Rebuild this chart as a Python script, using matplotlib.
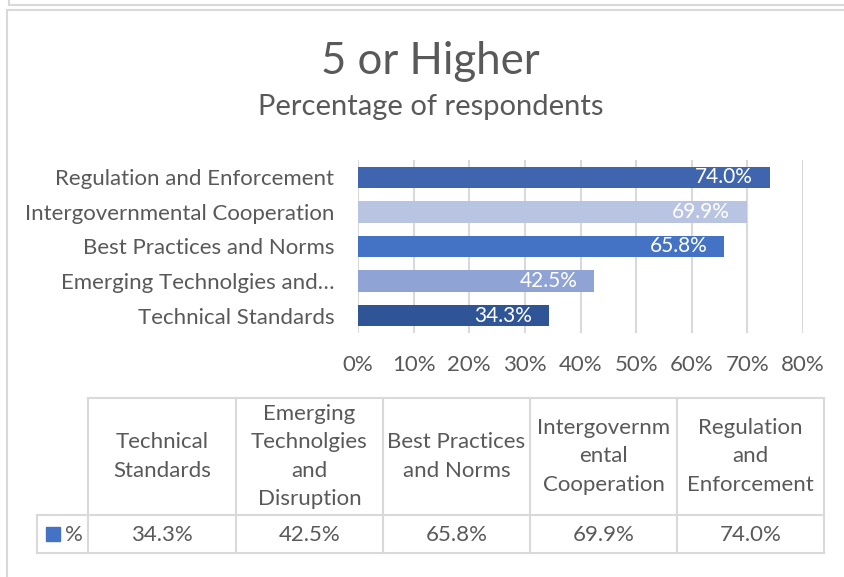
import matplotlib.pyplot as plt
from matplotlib.lines import Line2D

# data (table order: bottom bar first)
categories = ['Technical Standards', 'Emerging Technolgies and Disruption',
              'Best Practices and Norms', 'Intergovernmental Cooperation',
              'Regulation and Enforcement']
axis_labels = ['Technical Standards', 'Emerging Technolgies and\u2026',
               'Best Practices and Norms', 'Intergovernmental Cooperation',
               'Regulation and Enforcement']
table_headers = ['Technical\nStandards', 'Emerging\nTechnolgies\nand\nDisruption',
                 'Best Practices\nand Norms', 'Intergovernm\nental\nCooperation',
                 'Regulation\nand\nEnforcement']
values = [34.3, 42.5, 65.8, 69.9, 74.0]
bar_colors = ['#2F5597', '#8FA3D5', '#4472C4', '#B9C4E3', '#3E65AE']
xticks = [0, 10, 20, 30, 40, 50, 60, 70, 80]

W, H = 845, 577
TXT = '#595959'
GRID = '#D9D9D9'
FS = 16
plt.rcParams['font.family'] = ['Lato', 'DejaVu Sans']

fig = plt.figure(figsize=(W / 100, H / 100), dpi=100)


def px(x, y):
    # pixel coords (top-left origin) -> figure fraction
    return x / W, 1 - y / H


# outer frame
fig.add_artist(Line2D([9 / W, 1], [1 - 5 / H, 1 - 5 / H], color=GRID, lw=1.5))
fig.add_artist(Line2D([9 / W, 9 / W], [1, 1 - 5 / H], color=GRID, lw=1.5))
fig.add_artist(Line2D([7 / W, 1], [1 - 10 / H, 1 - 10 / H], color=GRID, lw=1.5))
fig.add_artist(Line2D([7 / W, 7 / W], [0, 1 - 10 / H], color=GRID, lw=1.5))

# titles
fig.text(*px(430, 62), '5 or Higher', ha='center', va='center', fontsize=31.5, color=TXT)
fig.text(*px(431, 107), 'Percentage of respondents', ha='center', va='center',
         fontsize=21, color=TXT)

# bar chart
left, right, top, bottom = 358, 803, 160, 333
ax = fig.add_axes([left / W, 1 - bottom / H, (right - left) / W, (bottom - top) / H])
ypos = list(range(len(values)))
ax.barh(ypos, values, height=0.62, color=bar_colors, zorder=3)
for y, v in zip(ypos, values):
    ax.annotate(f'{v:.1f}%', (v, y), xytext=(-12, 0), textcoords='offset points',
                ha='right', va='center', color='white', fontsize=15, zorder=4)
ax.set_xlim(0, 80)
ax.set_ylim(-0.5, 4.5)
ax.set_xticks(xticks)
ax.set_xticklabels([f'{t}%' for t in xticks], color=TXT, fontsize=FS)
ax.set_yticks(ypos)
ax.set_yticklabels(axis_labels, color=TXT, fontsize=FS)
ax.tick_params(length=0)
ax.tick_params(axis='x', pad=16)
ax.tick_params(axis='y', pad=17)
ax.grid(axis='x', color=GRID, lw=1.5, zorder=0)
for s in ax.spines.values():
    s.set_visible(False)

# data table
col_x = [88, 236, 383, 530, 677, 824]
t_top, t_mid, t_bot, t_left = 398, 515, 553, 37
lw = 1.5
for x in col_x:
    fig.add_artist(Line2D([x / W] * 2, [1 - t_top / H, 1 - t_bot / H], color=GRID, lw=lw))
fig.add_artist(Line2D([t_left / W] * 2, [1 - t_mid / H, 1 - t_bot / H], color=GRID, lw=lw))
fig.add_artist(Line2D([col_x[0] / W, col_x[-1] / W], [1 - t_top / H] * 2, color=GRID, lw=lw))
fig.add_artist(Line2D([t_left / W, col_x[-1] / W], [1 - t_mid / H] * 2, color=GRID, lw=lw))
fig.add_artist(Line2D([t_left / W, col_x[-1] / W], [1 - t_bot / H] * 2, color=GRID, lw=lw))

for i, (hdr, v) in enumerate(zip(table_headers, values)):
    cx = (col_x[i] + col_x[i + 1]) / 2
    fig.text(*px(cx, (t_top + t_mid) / 2), hdr, ha='center', va='center',
             fontsize=FS, color=TXT, linespacing=1.52)
    fig.text(*px(cx, (t_mid + t_bot) / 2 + 1), f'{v:.1f}%', ha='center', va='center',
             fontsize=FS, color=TXT)

# legend key cell
fig.add_artist(plt.Rectangle(px(46, 541), 14 / W, 14 / H, color='#4472C4'))
fig.text(*px(74, (t_mid + t_bot) / 2 + 1), '%', ha='center', va='center', fontsize=FS, color=TXT)

fig.savefig('out.png', dpi=100)
